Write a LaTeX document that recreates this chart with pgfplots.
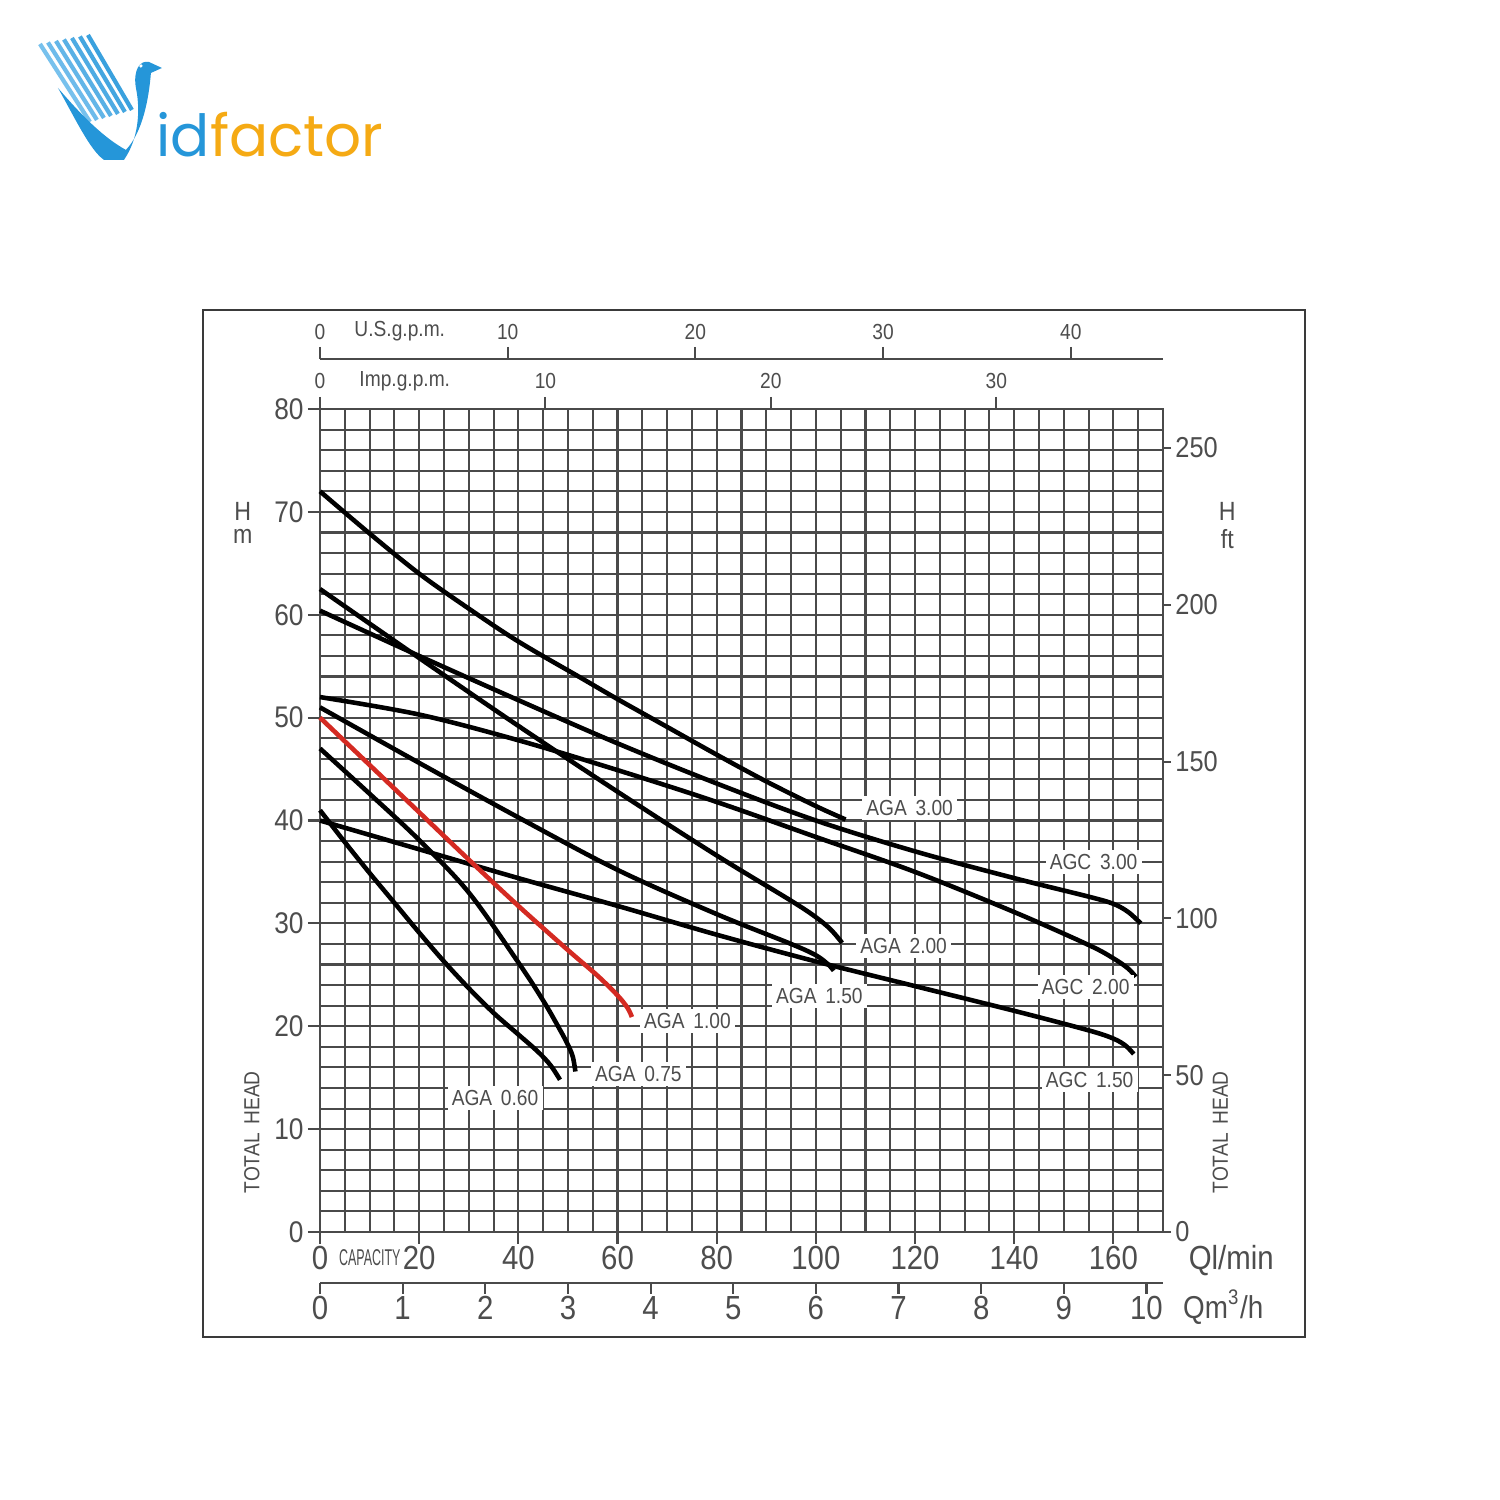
\documentclass[border=0pt]{standalone}
\usepackage{pgfplots}
\pgfplotsset{compat=1.18}
\usepackage{fontspec}
\setmainfont{Liberation Sans}[FakeStretch=0.88]
\newfontfamily\logofont{Poppins}
\definecolor{gridc}{HTML}{4A4A4A}
\definecolor{txtc}{HTML}{4D4D4D}
\definecolor{framec}{HTML}{3A3A3A}
\definecolor{redc}{HTML}{D42A22}
\definecolor{logoblue}{HTML}{2596D9}
\definecolor{logolight}{HTML}{8CCBF2}
\definecolor{logoorange}{HTML}{F5AA14}
\newcommand\tkm{\fontsize{8.5}{10}\selectfont}
\newcommand\tkb{\fontsize{9.5}{11}\selectfont}
\newcommand\tks{\fontsize{6.2}{7}\selectfont}
\newcommand\lbl{\fontsize{6.2}{7}\selectfont}
\pgfplotsset{
  base/.style={scale only axis, width=8.43cm, clip=false,
    /pgf/number format/assume math mode=true,
    axis line style={draw=gridc, line width=0.6pt},
    tick style={draw=gridc, line width=0.6pt},
    tick align=outside,
    minor tick length=0pt,
  },
  curve/.style={black, line width=1.3pt, smooth, tension=0.55},
}
\tikzset{lab/.style={fill=white, inner sep=1.2pt, font=\lbl, text=txtc}}
\begin{document}
\begin{tikzpicture}
\useasboundingbox (0,0) rectangle (15cm,15cm);
\fill[white] (0,0) rectangle (15cm,15cm);
\draw[framec, line width=0.7pt] (2.03cm,1.63cm) rectangle (13.05cm,11.90cm);

% main axis
\begin{axis}[base,
  at={(3.20cm,2.68cm)}, anchor=south west, height=8.23cm,
  xmin=0, xmax=170, ymin=0, ymax=80,
  xtick={0,20,...,160}, ytick={0,10,...,80},
  minor x tick num=3, minor y tick num=4,
  extra x ticks={165,170}, extra x tick labels={},
  extra x tick style={major tick length=0pt, grid=major},
  grid=both,
  major grid style={draw=gridc, line width=0.6pt},
  minor grid style={draw=gridc, line width=0.6pt},
  xtick pos=bottom, ytick pos=left,
  major tick length=0.12cm,
  xticklabel style={font=\tkb, text=txtc, yshift=0.1cm},
  yticklabel style={font=\tkm, text=txtc, xshift=0.08cm},
]
% AGA 3.00
\addplot[curve] coordinates {(0,72)(10,67.9)(20,64.0)(30,60.6)(40,57.4)(52.5,53.9)(60,51.8)(70,49.1)(80,46.4)(90,43.8)(100,41.4)(106,40.1)};
% AGC 3.00
\addplot[curve] coordinates {(0,60.4)(20,56.0)(40,51.7)(60,47.5)(80,43.6)(100,40.0)(120,37.0)(140,34.4)(155,32.6)(160,31.9)(163,31.1)(165.5,30.0)};
% AGA 2.00
\addplot[curve] coordinates {(0,62.5)(20,55.8)(40,49.2)(60,42.8)(80,36.6)(95,32.2)(100,30.6)(103,29.4)(105.3,28.1)};
% AGC 2.00
\addplot[curve] coordinates {(0,52.0)(20,50.3)(40,47.8)(60,44.9)(80,41.8)(100,38.4)(120,35.0)(140,31.1)(155,27.9)(160,26.6)(163,25.6)(164.5,24.8)};
% AGA 1.50
\addplot[curve] coordinates {(0,51)(20,45.6)(40,40.3)(60,35.2)(80,30.9)(95,28.0)(100,26.9)(102.5,26.0)(103.6,25.4)};
% AGC 1.50
\addplot[curve] coordinates {(0,40)(20,37.2)(40,34.4)(60,31.7)(80,28.9)(100,26.3)(120,23.9)(140,21.5)(155,19.6)(160,18.8)(162.5,18.1)(164.1,17.3)};
% AGA 1.00 (red)
\addplot[curve, draw=redc] coordinates {(0,50)(10,45.4)(20,40.8)(30,36.2)(40,31.7)(50,27.4)(56,24.9)(60,23.0)(62,21.8)(62.9,20.9)};
% AGA 0.75
\addplot[curve] coordinates {(0,47)(10,42.6)(20,38.1)(30,33.0)(40,26.2)(45,22.5)(48,20.0)(50,18.2)(51,17.0)(51.5,15.6)};
% AGA 0.60
\addplot[curve] coordinates {(0,41)(5,37.9)(10,34.9)(15,32.0)(20,29.1)(25,26.3)(30,23.7)(35,21.3)(40,19.2)(44,17.5)(46.5,16.2)(48.4,14.8)};

\node[lab] at (axis cs:118.9,41.2) {AGA\hspace{0.4em}3.00};
\node[lab] at (axis cs:156,36.0) {AGC\hspace{0.4em}3.00};
\node[lab] at (axis cs:117.7,27.8) {AGA\hspace{0.4em}2.00};
\node[lab] at (axis cs:154.4,23.8) {AGC\hspace{0.4em}2.00};
\node[lab] at (axis cs:100.7,22.9) {AGA\hspace{0.4em}1.50};
\node[lab] at (axis cs:155.2,14.8) {AGC\hspace{0.4em}1.50};
\node[lab] at (axis cs:74.1,20.5) {AGA\hspace{0.4em}1.00};
\node[lab] at (axis cs:64.2,15.4) {AGA\hspace{0.4em}0.75};
\node[lab] at (axis cs:35.3,13.0) {AGA\hspace{0.4em}0.60};
\end{axis}

% Imp gpm
\begin{axis}[base, at={(3.20cm,10.91cm)}, anchor=north west, height=0.5cm,
  xmin=0, xmax=37.395, ymin=0, ymax=1,
  axis x line*=top, axis y line=none,
  xtick={0,10,20,30}, major tick length=0.12cm,
  xticklabel style={font=\tks, text=txtc, yshift=-0.04cm}]
\addplot[draw=none] coordinates {(0,0)};
\end{axis}
% US gpm
\begin{axis}[base, at={(3.20cm,11.41cm)}, anchor=north west, height=0.5cm,
  xmin=0, xmax=44.913, ymin=0, ymax=1,
  axis x line*=top, axis y line=none,
  xtick={0,10,...,40}, major tick length=0.12cm,
  xticklabel style={font=\tks, text=txtc, yshift=-0.05cm}]
\addplot[draw=none] coordinates {(0,0)};
\end{axis}
% m3/h
\begin{axis}[base, at={(3.20cm,2.17cm)}, anchor=south west, height=0.5cm,
  xmin=0, xmax=10.2, ymin=0, ymax=1,
  axis x line*=bottom, axis y line=none,
  xtick={0,1,...,10}, major tick length=0.11cm,
  xticklabel style={font=\tkb, text=txtc, yshift=0.1cm}]
\addplot[draw=none] coordinates {(0,0)};
\end{axis}
% ft
\begin{axis}[base, at={(3.20cm,2.68cm)}, anchor=south west, height=8.23cm,
  xmin=0, xmax=1, ymin=0, ymax=262.467,
  axis y line*=right, axis x line=none,
  ytick={0,50,...,250}, major tick length=0.08cm,
  yticklabel style={font=\fontsize{8.2}{10}\selectfont, text=txtc, xshift=-0.08cm}]
\addplot[draw=none] coordinates {(0,0)};
\end{axis}

\begin{scope}[x=0.01cm, y=-0.01cm, yshift=15cm]
  % logo streaks
  \foreach \i/\c in {0/20,1/30,2/40,3/50,4/60,5/70,6/80} {
    \draw[logoblue!\c!logolight, line width=1.2pt] (40+8*\i,44-1.5*\i) -- (90+7*\i,122-2*\i);
  }
  \fill[logoblue] (58,88) .. controls (76,120) and (90,150) .. (104,160) -- (124,160)
     .. controls (138,140) and (141,112) .. (136,88) .. controls (133,70) and (140,60) .. (149,62)
     -- (162,68) -- (151,73) .. controls (149,98) and (143,132) .. (126,150)
     .. controls (104,138) and (82,116) .. (58,88) -- cycle;
  \fill[white] (141,66) circle (1.8);
  \node[anchor=base west, inner sep=0pt] at (156,157)
     {\logofont\fontsize{16.5}{16.5}\selectfont\textcolor{logoblue}{id}\textcolor{logoorange}{factor}};

  \node[font=\tks, text=txtc] at (400,331) {U.S.g.p.m.};
  \node[font=\tks, text=txtc] at (405,381) {Imp.g.p.m.};
  \node[font=\fontsize{7.5}{8}\selectfont, text=txtc] at (243,512) {H};
  \node[font=\fontsize{7.5}{8}\selectfont, text=txtc] at (243,537) {m};
  \node[font=\lbl, text=txtc, rotate=90] at (252,1133) {TOTAL\hspace{0.4em}HEAD};
  \node[font=\fontsize{7.5}{8}\selectfont, text=txtc] at (1228,512) {H};
  \node[font=\fontsize{7.5}{8}\selectfont, text=txtc] at (1228,539) {ft};
  \node[font=\lbl, text=txtc, rotate=90] at (1221,1133) {TOTAL\hspace{0.4em}HEAD};
  \node[text=txtc] at (370,1258) {\scalebox{0.62}[1]{\fontsize{6.5}{7}\selectfont CAPACITY}};
  \node[font=\tkb, text=txtc] at (1232,1261) {Ql/min};
  \node[font=\fontsize{9}{10}\selectfont, text=txtc] at (1224,1308) {Qm\textsuperscript{3}/h};
\end{scope}
\end{tikzpicture}
\end{document}
